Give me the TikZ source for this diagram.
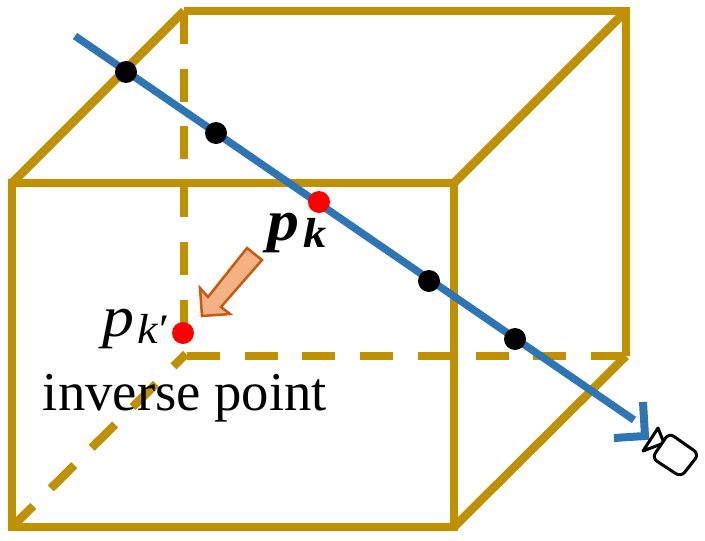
\documentclass[tikz,border=0pt]{standalone}
\usepackage{fontspec}
\setmainfont{Liberation Serif}
\definecolor{boxgold}{RGB}{191,144,0}
\definecolor{rayblue}{RGB}{46,117,182}
\definecolor{arrowfill}{RGB}{244,177,131}
\definecolor{arrowline}{RGB}{197,90,17}
\begin{document}
\begin{tikzpicture}
[x=1pt,y=-1pt,
  boxedge/.style={draw=boxgold,line width=8.5pt,line cap=butt,line join=miter},%
  boxdash/.style={draw=boxgold,line width=8.5pt,dash pattern=on 33pt off 24.7pt},%
  raydecorate/.style={draw=rayblue,line width=7.5pt},%
  samplepoint/.style={shape=circle,inner sep=0pt,minimum size=22pt,fill=black},%
  inversepoint/.style={samplepoint,fill=red},%
  labeldecorate/.style={inner sep=0pt,font=\fontsize{54.7}{60}\selectfont}]
\useasboundingbox (0,0) rectangle (705,541);
% corners of the box
\coordinate (fa) at (12,183);
\coordinate (fb) at (454,183);
\coordinate (fc) at (454,527);
\coordinate (fd) at (12,527);
\coordinate (ba) at (184,11);
\coordinate (bb) at (626,11);
\coordinate (bc) at (626,356);
\coordinate (bd) at (184,356);
\coordinate (bdr) at (187,356);
\coordinate (bdd) at (186,354);
% ends of the ray
\coordinate (raystart) at (75,36);
\coordinate (rayend) at (634,420);
% hidden edges
\path[boxdash] (ba) -- (bd);
\path[boxdash] (bdr) -- (bc);
\path[boxdash,dash phase=3pt] (fd) -- (bdd);
% visible edges
\path[boxedge] (fa) -- (fb) -- (fc) -- (fd) -- cycle;
\path[boxedge] (ba) -- (bb) -- (bc);
\path[boxedge] (fa) -- (ba);
\path[boxedge] (fb) -- (bb);
\path[boxedge] (fc) -- (bc);
% ray
\path[raydecorate] (raystart) -- (rayend);
% nodes on the ray
\node (s1) at (126,72) [samplepoint] {};
\node (s2) at (216,133) [samplepoint] {};
\node (s3) at (429,281) [samplepoint] {};
\node (s4) at (515,339) [samplepoint] {};
\node (pk) at (319,202) [inversepoint] {};
\node (pkinv) at (183,333) [inversepoint] {};
% labels
\node (pklabel) at (297,233) [labeldecorate] {\scalebox{1.1}[1]{\fontsize{58}{60}\selectfont\textbf{\textit{p}\hspace{3pt}\raisebox{-7pt}{\fontsize{42}{44}\selectfont\textit{k}}}}};
\node (pkinvlabel) at (136,329) [labeldecorate] {\scalebox{1.1}[1]{\fontsize{58}{60}\selectfont\textit{p}\hspace{3pt}\raisebox{-7pt}{\fontsize{42}{44}\selectfont\textit{k}′}}};
\node (inverselabel) at (185,398) [labeldecorate] {inverse point};
% orange arrow
\draw[draw=arrowline,fill=arrowfill,line width=2.5pt,line join=miter]
(247,248) -- (262,260) -- (221,307) -- (230,314) -- (202,316) -- (200,288) -- (208,297) -- cycle;
% camera
\draw[draw=rayblue,line width=8pt,line join=miter] (643,402) -- (645,436) -- (614,438);
\draw[draw=black,line width=3pt,fill=white,line join=round] (658,428) -- (643,451) -- (664,443) -- cycle;
\draw[draw=black,line width=3pt,fill=white,rounded corners=6pt] (669,433) -- (699,454) -- (681,477) -- (652,458) -- cycle;
\end{tikzpicture}
\end{document}
